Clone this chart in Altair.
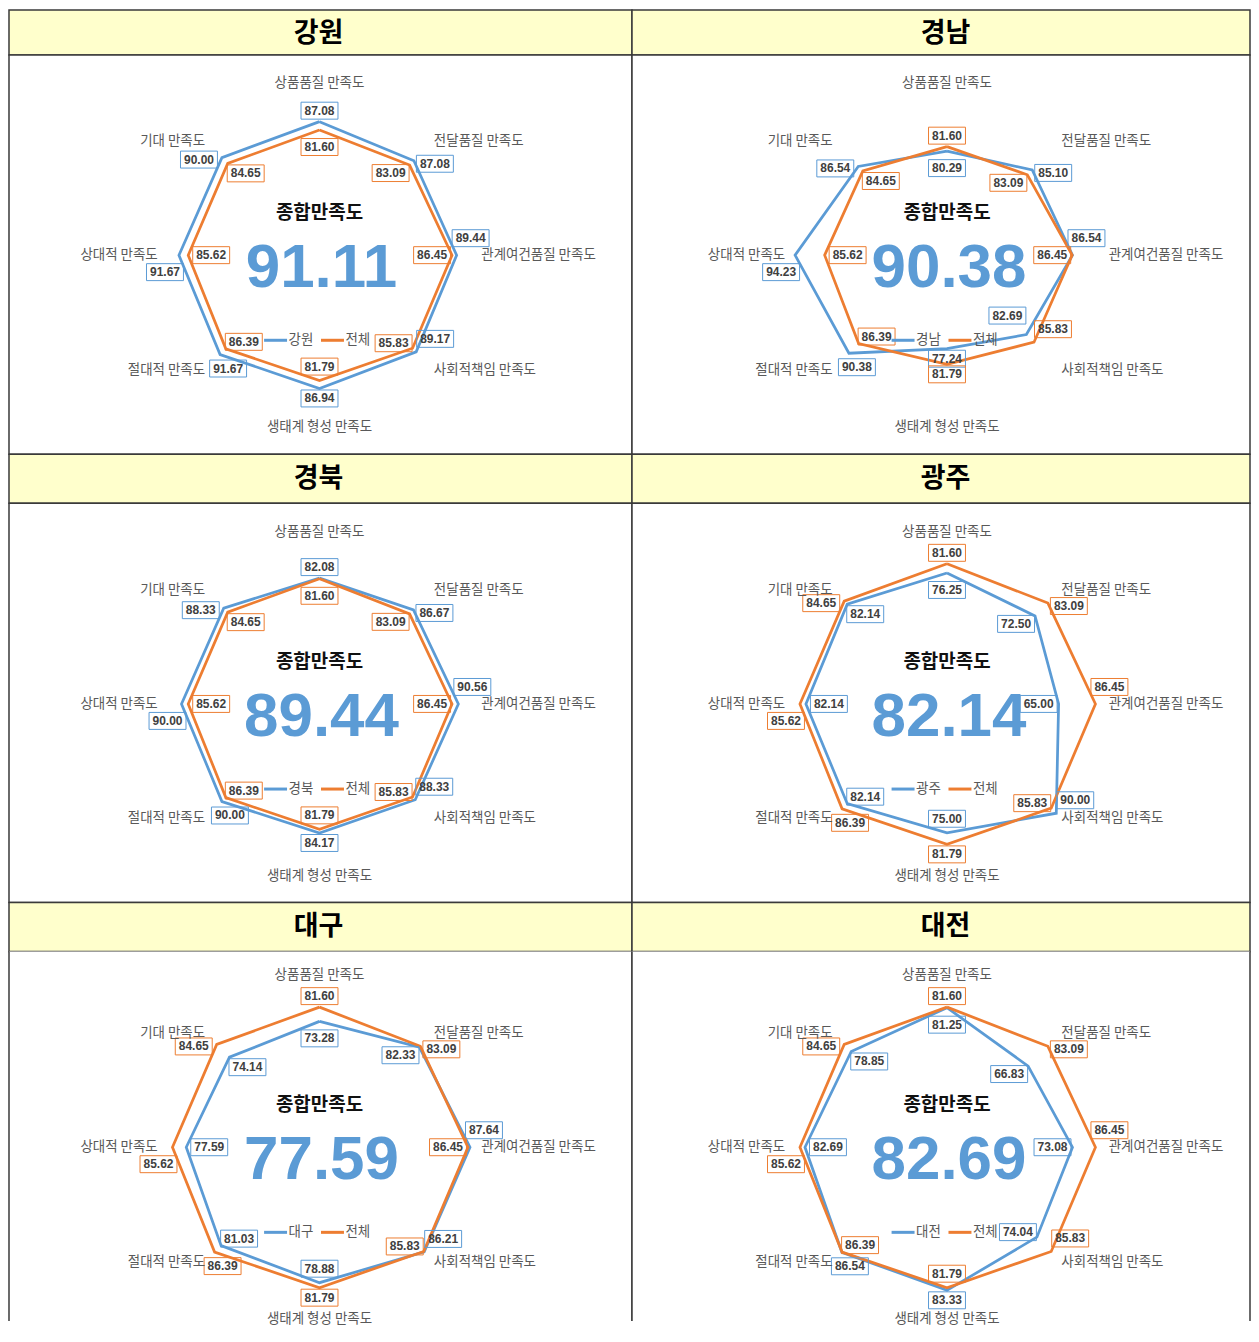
import altair as alt
import pandas as pd

# ---------------- data ----------------
CATEGORIES = ["상품품질 만족도", "전달품질 만족도", "관계여건품질 만족도", "사회적책임 만족도",
              "생태계 형성 만족도", "절대적 만족도", "상대적 만족도", "기대 만족도"]
TOTAL_NAME = "전체"
TOTAL = [81.60, 83.09, 86.45, 85.83, 81.79, 86.39, 85.62, 84.65]

REGIONS = ["강원", "경남", "경북", "광주", "대구", "대전"]
GANGWON = [87.08, 87.08, 89.44, 89.17, 86.94, 91.67, 91.67, 90.00]
GYEONGNAM = [80.29, 85.10, 86.54, 82.69, 77.24, 90.38, 94.23, 86.54]
GYEONGBUK = [82.08, 86.67, 90.56, 88.33, 84.17, 90.00, 90.00, 88.33]
GWANGJU = [76.25, 72.50, 65.00, 90.00, 75.00, 82.14, 82.14, 82.14]
DAEGU = [73.28, 82.33, 87.64, 86.21, 78.88, 81.03, 77.59, 74.14]
DAEJEON = [81.25, 66.83, 73.08, 74.04, 83.33, 86.54, 82.69, 78.85]
REGION_VALUES = [GANGWON, GYEONGNAM, GYEONGBUK, GWANGJU, DAEGU, DAEJEON]

OVERALL = [91.11, 90.38, 89.44, 82.14, 77.59, 82.69]
CENTER_TITLE = "종합만족도"

# radial axis range of each panel (each original chart had its own scale)
AXIS_MIN = [0, 50, 0, 0, 0, 0]
AXIS_MAX = [112, 100, 112, 100, 100, 100]

# ---------------- style ----------------
BLUE = "#5B9BD5"
ORANGE = "#ED7D31"
HEADER_BG = "#FFFFCC"
BORDER = "#3a3a3a"
KFONT = "Noto Sans CJK KR"
NUMFONT = "Liberation Sans"
BIGFONT = "Liberation Sans"

N = len(CATEGORIES)
R_OUT = 172          # pixel radius of the radial axis maximum
LABEL_R = 162        # radius of the side category labels
LABEL_TOP = 172.5    # distance of top / bottom category labels

COL_W = [624, 619]
HEADER_H = [45, 49, 49]
BODY_H = [400, 400, 370]
HEADER_TX = [310, 314]
HEADER_TY = [24, 25, 24]
HEADER_FS = 27
CX = [311, 315.5]
CY = [200.5, 201, 196]

# legend placement relative to the radar centre (screen px)
LEG_DX, LEG_DY = -57, 72
LEG_BAND = (-50, 48, 83.5, 7)   # x0, x1, y-centre, half height (for label collision test)

# label box offsets (screen px, y down) for the label outside / inside the polygon
OUT_DX = [0, 21, 14, 19, 0, 8, -14, -23]
OUT_DY = [-11, 3, -17, -13, 10, 14, 17, 2]
IN_DX = [0, -19, -20, -19, 0, 18, 23, 18]
IN_DY = [17, 8, 0, -5, -14, -7, 0, 10]
BOX_W, BOX_H = 37, 17
BOX_PATH = f"M-1,-{BOX_H / BOX_W:.3f}L1,-{BOX_H / BOX_W:.3f}L1,{BOX_H / BOX_W:.3f}L-1,{BOX_H / BOX_W:.3f}Z"


def points_frame(region, values):
    rows = []
    for name, vals, other in [(region, values, TOTAL), (TOTAL_NAME, TOTAL, values)]:
        for i in range(N + 1):
            k = i % N
            rows.append({"series": name, "i": i, "v": vals[k],
                         "out": 1 if vals[k] > other[k] else 0})
    return pd.DataFrame(rows)


def header(p, col, row):
    W = COL_W[col]
    return alt.Chart(pd.DataFrame({"name": [REGIONS[p]]})).mark_text(
        font=KFONT, fontSize=HEADER_FS, fontWeight="bold", color="#000000", baseline="middle"
    ).encode(
        text="name:N", x=alt.value(HEADER_TX[col]), y=alt.value(HEADER_TY[row])
    ).properties(
        width=W, height=HEADER_H[row],
        view=alt.ViewBackground(fill=HEADER_BG, stroke=BORDER, strokeWidth=1.5),
    )


def body(p, col, row):
    W, H = COL_W[col], BODY_H[row]
    cx, cy = CX[col], CY[row]
    region = REGIONS[p]
    lo, hi = AXIS_MIN[p], AXIS_MAX[p]
    xs = alt.Scale(domain=[-cx, W - cx], nice=False, zero=False)
    ys = alt.Scale(domain=[cy - H, cy], nice=False, zero=False)

    pts = alt.Chart(points_frame(region, REGION_VALUES[p])).transform_calculate(
        theta=f"2*PI*datum.i/{N}"
    ).transform_calculate(
        rr=f"{R_OUT}*(datum.v-({lo}))/({hi}-({lo}))"
    ).transform_calculate(
        px="datum.rr*sin(datum.theta)"
    ).transform_calculate(
        py="datum.rr*cos(datum.theta)"
    )

    line = pts.mark_line(strokeWidth=2.75).encode(
        x=alt.X("px:Q", scale=xs, axis=None),
        y=alt.Y("py:Q", scale=ys, axis=None),
        color=alt.Color(
            "series:N",
            scale=alt.Scale(domain=[region, TOTAL_NAME], range=[BLUE, ORANGE]),
            legend=alt.Legend(
                orient="none", legendX=cx + LEG_DX, legendY=cy + LEG_DY, direction="horizontal",
                title=None, symbolType="stroke", symbolSize=529, symbolStrokeWidth=3,
                labelFont=KFONT, labelFontSize=13.5, labelColor="#595959", labelOffset=0,
                columnPadding=1, padding=0,
            ),
        ),
        order=alt.Order("i:Q"),
    )

    x0, x1, ly0, lh = LEG_BAND
    hw, hh = BOX_W / 2, BOX_H / 2
    lab = pts.transform_filter(f"datum.i < {N}").transform_calculate(
        lx=f"datum.px + (datum.out ? {OUT_DX}[datum.i] : {IN_DX}[datum.i])"
    ).transform_calculate(
        ly0=f"datum.py - (datum.out ? {OUT_DY}[datum.i] : {IN_DY}[datum.i])"
    ).transform_calculate(
        hit=(f"abs(-datum.ly0 - {ly0}) < {lh + hh} && datum.lx + {hw} > {x0} "
             f"&& datum.lx - {hw} < {x1}")
    ).transform_calculate(
        ly="datum.hit ? (datum.i === 4 ? datum.py - 10 : datum.ly0 + 14) : datum.ly0"
    ).transform_calculate(
        bc=f"datum.series === '{TOTAL_NAME}' ? '{ORANGE}' : '{BLUE}'"
    )
    boxes = lab.mark_point(
        shape=BOX_PATH, size=BOX_W ** 2, filled=False, strokeWidth=1, opacity=1
    ).encode(
        x=alt.X("lx:Q", scale=xs, axis=None),
        y=alt.Y("ly:Q", scale=ys, axis=None),
        stroke=alt.Stroke("bc:N", scale=None),
    )
    vtext = lab.mark_text(
        font=NUMFONT, fontSize=12, fontWeight="bold", color="#404040", baseline="middle"
    ).encode(
        x=alt.X("lx:Q", scale=xs, axis=None),
        y=alt.Y("ly:Q", scale=ys, axis=None),
        text=alt.Text("v:Q", format=".2f"),
    )

    cats = alt.Chart(pd.DataFrame({"cat": CATEGORIES, "i": list(range(N))})).transform_calculate(
        theta=f"2*PI*datum.i/{N}"
    ).transform_calculate(
        lx=f"datum.i % 4 === 0 ? 0 : {LABEL_R}*sin(datum.theta)"
    ).transform_calculate(
        ly=f"datum.i === 0 ? {LABEL_TOP} : (datum.i === 4 ? -{LABEL_TOP} : {LABEL_R}*cos(datum.theta))"
    )
    cat_layers = []
    for flt, al in [("datum.i % 4 === 0", "center"),
                    ("datum.i > 0 && datum.i < 4", "left"),
                    ("datum.i > 4", "right")]:
        cat_layers.append(
            cats.transform_filter(flt).mark_text(
                font=KFONT, fontSize=13.5, color="#595959", align=al, baseline="middle"
            ).encode(
                x=alt.X("lx:Q", scale=xs, axis=None),
                y=alt.Y("ly:Q", scale=ys, axis=None),
                text="cat:N",
            )
        )

    ctr = alt.Chart(pd.DataFrame({"title": [CENTER_TITLE], "score": [OVERALL[p]]}))
    ctitle = ctr.mark_text(
        font=KFONT, fontSize=19, fontWeight="bold", color="#111111", baseline="middle"
    ).encode(text="title:N", x=alt.value(cx), y=alt.value(cy - 42))
    cscore = ctr.mark_text(
        font=BIGFONT, fontSize=62, fontWeight="bold", color=BLUE, baseline="alphabetic"
    ).encode(text=alt.Text("score:Q", format=".2f"), x=alt.value(cx + 2), y=alt.value(cy + 32))

    layers = [line, boxes, vtext, *cat_layers, ctitle, cscore]
    if row == len(HEADER_H) - 1:
        # last row runs off the bottom of the page: side borders only
        for xv in (0, W):
            layers.append(ctr.mark_rule(color=BORDER, strokeWidth=1.5).encode(
                x=alt.value(xv), y=alt.value(0), y2=alt.value(H)))
        view = alt.ViewBackground(fill="white", stroke="transparent", strokeWidth=0)
    else:
        view = alt.ViewBackground(fill="white", stroke=BORDER, strokeWidth=1.5)

    return alt.layer(*layers).properties(width=W, height=H, view=view)


cells = []
for r in range(3):
    pl, pr = 2 * r, 2 * r + 1
    cells += [header(pl, 0, r), header(pr, 1, r), body(pl, 0, r), body(pr, 1, r)]

chart = (
    alt.concat(*cells, columns=2, spacing=0, bounds="flush")
    .resolve_scale(x="independent", y="independent", color="independent")
    .resolve_legend(color="independent")
    .properties(padding=0, background="white")
)

chart.save("out.html", embed_options={"renderer": "svg", "actions": False})
